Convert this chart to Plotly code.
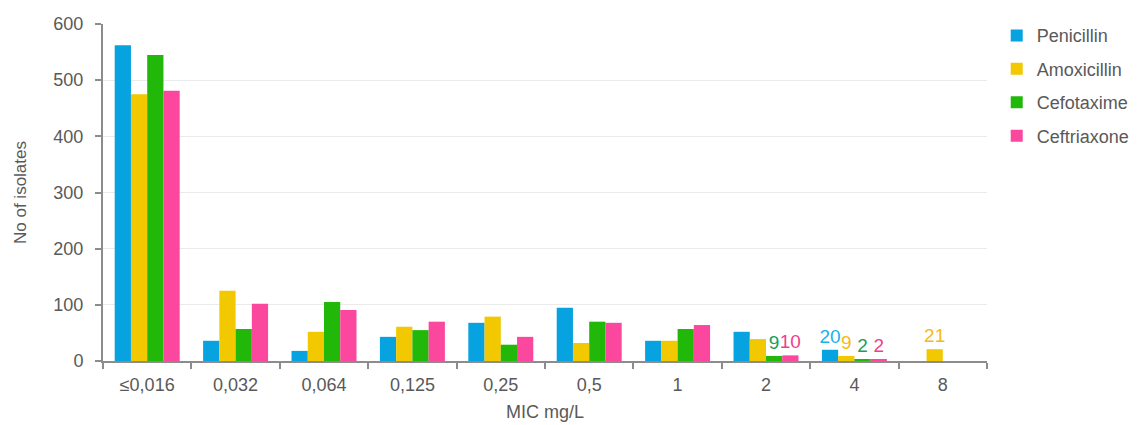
import plotly.graph_objects as go

# MIC categories (mg/L)
categories = ["≤0,016", "0,032", "0,064", "0,125", "0,25", "0,5", "1", "2", "4", "8"]

# Number of isolates per MIC value
penicillin = [562, 36, 18, 43, 68, 95, 36, 52, 20, 0]
amoxicillin = [475, 125, 52, 61, 79, 32, 36, 39, 9, 21]
cefotaxime = [545, 57, 105, 55, 29, 70, 57, 9, 2, 0]
ceftriaxone = [481, 102, 91, 70, 43, 68, 64, 10, 2, 0]

# Which bars carry a value label
penicillin_labelled = ["4"]
amoxicillin_labelled = ["4", "8"]
cefotaxime_labelled = ["2", "4"]
ceftriaxone_labelled = ["2", "4"]

series = [
    ("Penicillin", penicillin, penicillin_labelled, "#07a2e0", "#1ab2ea"),
    ("Amoxicillin", amoxicillin, amoxicillin_labelled, "#f2c800", "#f7b912"),
    ("Cefotaxime", cefotaxime, cefotaxime_labelled, "#22b80a", "#1aa055"),
    ("Ceftriaxone", ceftriaxone, ceftriaxone_labelled, "#fb479e", "#f0408a"),
]

FONT = "Liberation Sans, Arial, sans-serif"
TEXT_GREY = "#595959"
AXIS_GREY = "#8c8c8c"

fig = go.Figure()
for name, values, labelled, colour, label_colour in series:
    labels = [str(v) if c in labelled else "" for c, v in zip(categories, values)]
    fig.add_trace(go.Bar(
        name=name,
        legendgroup=name,
        x=categories,
        y=values,
        marker=dict(color=colour, line=dict(width=0)),
        text=labels,
        textposition="outside",
        textfont=dict(family=FONT, size=19, color=label_colour),
        constraintext="none",
        cliponaxis=False,
        hoverinfo="skip",
    ))

fig.update_layout(
    width=1137,
    height=425,
    margin=dict(l=103, r=150, t=24, b=64, autoexpand=False),
    paper_bgcolor="white",
    plot_bgcolor="white",
    barmode="group",
    bargap=0.265,
    bargroupgap=0,
    font=dict(family=FONT, size=18, color=TEXT_GREY),
    showlegend=True,
    legend=dict(
        x=1.011, xanchor="left", y=1.02, yanchor="top",
        font=dict(family=FONT, size=18, color=TEXT_GREY),
        tracegroupgap=7,
        itemwidth=30,
    ),
)

fig.update_xaxes(
    type="category",
    tickson="boundaries",
    ticks="outside",
    ticklen=6,
    tickwidth=2,
    tickcolor=AXIS_GREY,
    showline=True,
    linecolor=AXIS_GREY,
    linewidth=2,
    showgrid=False,
    ticklabelstandoff=6,
    tickfont=dict(family=FONT, size=18, color=TEXT_GREY),
    title=dict(text="MIC mg/L", font=dict(family=FONT, size=18, color=TEXT_GREY), standoff=12),
)

fig.update_yaxes(
    range=[0, 600],
    tickvals=[0, 100, 200, 300, 400, 500, 600],
    ticks="outside",
    ticklen=6,
    tickwidth=2,
    tickcolor=AXIS_GREY,
    showline=True,
    linecolor=AXIS_GREY,
    linewidth=2,
    showgrid=True,
    gridcolor="#ebebeb",
    gridwidth=1,
    zeroline=False,
    ticklabelstandoff=8,
    tickfont=dict(family=FONT, size=18, color=TEXT_GREY),
    title=dict(text="No of isolates", font=dict(family=FONT, size=17, color=TEXT_GREY), standoff=22),
)

fig.write_html("out.html")
